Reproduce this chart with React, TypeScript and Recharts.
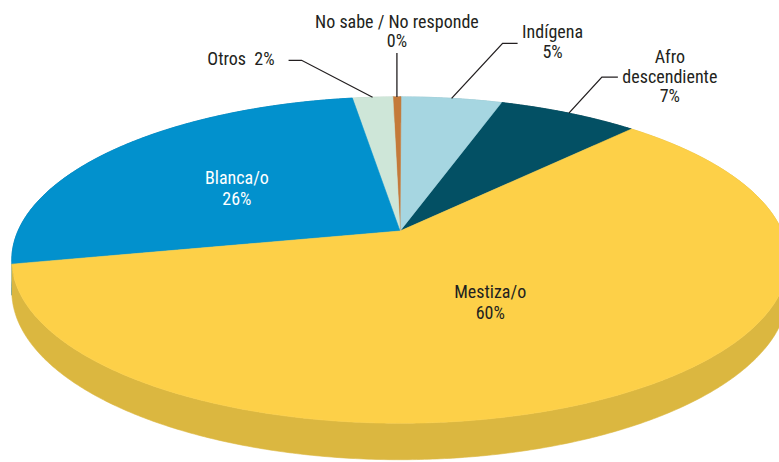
import React from "react";
import { PieChart, Pie } from "recharts";

const CATEGORIES = [
  "Afro\ndescendiente",
  "Indígena",
  "No sabe / No responde",
  "Otros",
  "Blanca/o",
  "Mestiza/o",
];
const VALUES = [7, 5, 0.4, 2, 26, 60];
const TOP_COLORS = ["#035064", "#a6d6e1", "#c47a3a", "#cee6d8", "#0291cd", "#fdd048"];
const SIDE_COLORS = ["#023c4b", "#8cb9c3", "#a3622c", "#b0c9bb", "#0277a9", "#dbb740"];

const data = CATEGORIES.map((name, i) => ({ name, value: VALUES[i] }));

// perspective projection of the pie disc
const RX = 382;
const RY = 158;
const PERSP = 0.178;
const DEPTH = 30;

const FONT = '"Liberation Sans Narrow", "Roboto Condensed", "DejaVu Sans Condensed", sans-serif';
const INK = "#231f20";

const LABEL_LAYOUT: any[] = [
  { kind: "out", ex: 33, ey: -36, tail: 16, tx: 68, ty: -14, anchor: "middle" },
  { kind: "out", ex: 51, ey: -55, tail: 15, tx: 50, ty: -5, anchor: "middle" },
  { kind: "out", ex: 0, ey: -44, tail: 0, tx: 0, ty: -25, anchor: "middle" },
  { kind: "out", ex: -71, ey: -37, tail: -13, tx: -27, ty: 5, anchor: "end", inline: true },
  { kind: "in", r: 0.55, color: "#ffffff" },
  { kind: "in", r: 0.45, color: INK },
];

function project(cx: number, cy: number, r: number, deg: number): [number, number] {
  const a = (deg * Math.PI) / 180;
  const u = r * Math.cos(a);
  const v = r * Math.sin(a);
  const w = 1 + PERSP * v;
  return [cx + (RX * u) / w, cy - (RY * v) / w];
}

function edge(cx: number, cy: number, s: number, e: number) {
  const n = Math.max(2, Math.ceil(Math.abs(e - s) / 0.5));
  const pts: { x: number; y: number; d: number }[] = [];
  for (let k = 0; k <= n; k++) {
    const deg = s + ((e - s) * k) / n;
    const [x, y] = project(cx, cy, 1, deg);
    const v = Math.sin((deg * Math.PI) / 180);
    pts.push({ x, y, d: DEPTH / (1 + PERSP * v) });
  }
  return pts;
}

const TopShape = (p: any) => {
  const pts = edge(p.cx, p.cy, p.startAngle, p.endAngle);
  const d =
    `M${p.cx},${p.cy} ` + pts.map((q) => `L${q.x.toFixed(2)},${q.y.toFixed(2)}`).join(" ") + " Z";
  return <path d={d} fill={p.fill} stroke={p.fill} strokeWidth={0.6} />;
};

const WallShape = (p: any) => {
  const pts = edge(p.cx, p.cy, p.startAngle, p.endAngle);
  const top = pts.map((q) => `${q.x.toFixed(2)},${q.y.toFixed(2)}`);
  const bottom = pts
    .slice()
    .reverse()
    .map((q) => `${q.x.toFixed(2)},${(q.y + q.d).toFixed(2)}`);
  const d = "M" + top.join(" L") + " L" + bottom.join(" L") + " Z";
  return <path d={d} fill={p.fill} stroke={p.fill} strokeWidth={0.6} />;
};

const renderLabel = (p: any) => {
  const i = p.index;
  const L = LABEL_LAYOUT[i];
  const name = String(p.payload?.name ?? p.name);
  const pct = `${Math.round(p.value)}%`;
  const lines = name.split("\n");
  if (L.kind === "in") {
    const [x, y] = project(p.cx, p.cy, L.r, p.midAngle);
    return (
      <g key={`lab-${i}`} fontFamily={FONT} fontSize={18} fill={L.color}>
        <text x={x} y={y} textAnchor="middle" fill={L.color}>
          {lines[0]}
        </text>
        <text x={x} y={y + 21} textAnchor="middle" fill={L.color}>
          {pct}
        </text>
      </g>
    );
  }
  const [ax, ay] = project(p.cx, p.cy, 1, p.midAngle);
  const ex = ax + L.ex;
  const ey = ay + L.ey;
  const textLines = L.inline ? [`${lines[0]}  ${pct}`] : [...lines, pct];
  return (
    <g key={`lab-${i}`}>
      <polyline
        points={`${ax},${ay} ${ex},${ey} ${ex + L.tail},${ey}`}
        fill="none"
        stroke={INK}
        strokeWidth={1.3}
      />
      {textLines.map((t, k) => (
        <text
          key={k}
          x={ex + L.tx}
          y={ey + L.ty + k * 19.5}
          textAnchor={L.anchor}
          fontFamily={FONT}
          fontSize={18}
          fill={INK}
          style={{ whiteSpace: "pre" }}
        >
          {t}
        </text>
      ))}
    </g>
  );
};

export default function App() {
  const sideData = data.map((d, i) => ({ ...d, fill: SIDE_COLORS[i] }));
  const topData = data.map((d, i) => ({ ...d, fill: TOP_COLORS[i] }));
  return (
    <div
      style={{
        position: "absolute",
        left: 0,
        top: 0,
        width: 779,
        height: 462,
        overflow: "hidden",
        background: "#ffffff",
      }}
    >
      <PieChart width={779} height={462} margin={{ top: 0, right: 0, bottom: 0, left: 0 }}>
        <Pie
          data={sideData}
          dataKey="value"
          nameKey="name"
          cx={400}
          cy={231}
          outerRadius={RX}
          startAngle={46.8}
          endAngle={406.8}
          stroke="none"
          isAnimationActive={false}
          shape={WallShape}
          activeShape={WallShape}
          inactiveShape={WallShape}
          label={false}
          labelLine={false}
        />
        <Pie
          data={topData}
          dataKey="value"
          nameKey="name"
          cx={400}
          cy={231}
          outerRadius={RX}
          startAngle={46.8}
          endAngle={406.8}
          stroke="none"
          isAnimationActive={false}
          shape={TopShape}
          activeShape={TopShape}
          inactiveShape={TopShape}
          label={renderLabel}
          labelLine={false}
        />
      </PieChart>
    </div>
  );
}
